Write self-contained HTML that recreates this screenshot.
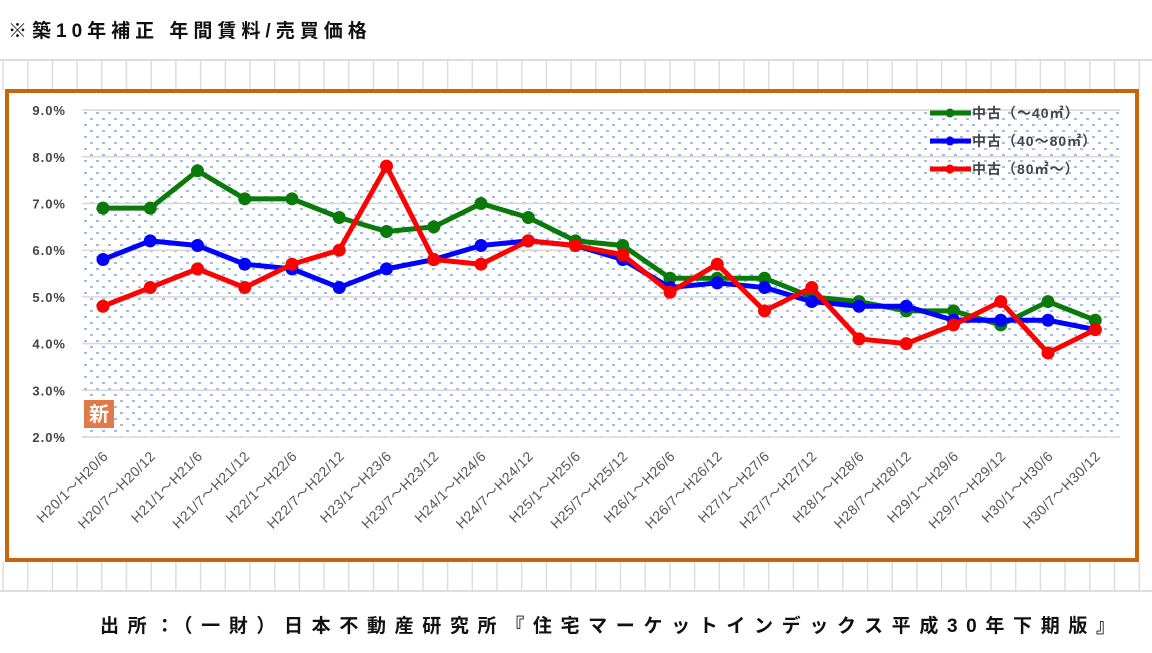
<!DOCTYPE html>
<html><head><meta charset="utf-8"><style>
body{margin:0;width:1152px;height:648px;background:#fff;overflow:hidden;font-family:"Liberation Sans","Noto Sans CJK JP",sans-serif;}
</style></head><body>
<svg width="1152" height="648" xmlns="http://www.w3.org/2000/svg">
<defs>
<pattern id="dots" x="84" y="112" width="12" height="12" patternUnits="userSpaceOnUse">
<rect x="0" y="0" width="3" height="2" fill="#9dbde3"/>
<rect x="6" y="6" width="3" height="2" fill="#9dbde3"/>
</pattern>
</defs>
<g id="sheet-grid"></g>
<text x="8" y="37" font-size="19" font-weight="bold" fill="#111" letter-spacing="5">※築10年補正 年間賃料/売買価格</text>
<rect x="7" y="91" width="1130" height="469" fill="#fff" stroke="#c8640a" stroke-width="4"/>
<rect x="82" y="110" width="1038" height="327" fill="url(#dots)"/>
<g id="grid"></g>
<g id="axes"></g>
<g id="series"></g>
<rect x="84" y="400" width="30" height="28" fill="#e07a4a"/>
<text x="99" y="421" font-size="20" font-weight="bold" fill="#fff" text-anchor="middle">新</text>
<g id="legend"></g>
<text x="100" y="632" font-size="19" font-weight="bold" fill="#111" textLength="1015" lengthAdjust="spacing">出所：（一財）日本不動産研究所『住宅マーケットインデックス平成30年下期版』</text>
</svg>
<script>
const categories=["H20/1～H20/6","H20/7～H20/12","H21/1～H21/6","H21/7～H21/12","H22/1～H22/6","H22/7～H22/12","H23/1～H23/6","H23/7～H23/12","H24/1～H24/6","H24/7～H24/12","H25/1～H25/6","H25/7～H25/12","H26/1～H26/6","H26/7～H26/12","H27/1～H27/6","H27/7～H27/12","H28/1～H28/6","H28/7～H28/12","H29/1～H29/6","H29/7～H29/12","H30/1～H30/6","H30/7～H30/12"];
const small=[6.9,6.9,7.7,7.1,7.1,6.7,6.4,6.5,7.0,6.7,6.2,6.1,5.4,5.4,5.4,5.0,4.9,4.7,4.7,4.4,4.9,4.5];
const medium=[5.8,6.2,6.1,5.7,5.6,5.2,5.6,5.8,6.1,6.2,6.1,5.8,5.2,5.3,5.2,4.9,4.8,4.8,4.5,4.5,4.5,4.3];
const large=[4.8,5.2,5.6,5.2,5.7,6.0,7.8,5.8,5.7,6.2,6.1,5.9,5.1,5.7,4.7,5.2,4.1,4.0,4.4,4.9,3.8,4.3];
const yTicks=[2,3,4,5,6,7,8,9];
const yTickLabels=["2.0%","3.0%","4.0%","5.0%","6.0%","7.0%","8.0%","9.0%"];
const seriesNames=["中古（～40㎡）","中古（40～80㎡）","中古（80㎡～）"];
const NS="http://www.w3.org/2000/svg";
function y(v){return 437-(v-2)*46.7;}
function x(i){return 103+i*47.25;}
function mk(tag,attrs,parent){const e=document.createElementNS(NS,tag);for(const k in attrs)e.setAttribute(k,attrs[k]);document.getElementById(parent).appendChild(e);return e;}
for(let gx=3;gx<1152;gx+=24.7){
 let l=mk("line",{x1:gx,y1:60,x2:gx,y2:90,stroke:"#ddd","stroke-width":1.5},"sheet-grid");
 
 
 let l2=mk("line",{x1:gx,y1:562,x2:gx,y2:590,stroke:"#ddd","stroke-width":1.5},"sheet-grid");
 
 
}
[60,591].forEach(gy=>{let l=mk("line",{x1:0,y1:gy,x2:1152,y2:gy,stroke:"#ddd","stroke-width":2},"sheet-grid");
 
 });
yTicks.forEach((t,i)=>{
 let l=mk("line",{x1:82,y1:y(t),x2:1120,y2:y(t),stroke:"#d8d8d8","stroke-width":1.5},"grid");
 
 
 let tx=mk("text",{x:66,y:y(t)+5,"font-size":13,"font-weight":"bold",fill:"#444","text-anchor":"end","letter-spacing":1},"axes");
 tx.textContent=yTickLabels[i];
 
 
});
categories.forEach((c,i)=>{
 let tx=mk("text",{x:x(i)+6,y:457,"font-size":14,fill:"#555","text-anchor":"end","letter-spacing":0.5,transform:`rotate(-45 ${x(i)+6} 457)`},"axes");
 tx.textContent=c;
 
 
});
const colors=["#0a7a0a","#0000ff","#ff0000"];
[small,medium,large].forEach((d,s)=>{
 let pl=mk("polyline",{points:d.map((v,i)=>x(i)+","+y(v)).join(" "),fill:"none",stroke:colors[s],"stroke-width":5,"stroke-linejoin":"round"},"series");
 
 
 d.forEach((v,i)=>{let c=mk("circle",{cx:x(i),cy:y(v),r:6.5,fill:colors[s]},"series");
  
  });
});
seriesNames.forEach((n,s)=>{
 const ly=113+s*28;
 let l=mk("line",{x1:930,y1:ly,x2:971,y2:ly,stroke:colors[s],"stroke-width":5},"legend");
 
 
 let c=mk("circle",{cx:950,cy:ly,r:4.5,fill:colors[s]},"legend");
 
 
 let t=mk("text",{x:972,y:ly+5,"font-size":14,"font-weight":"bold",fill:"#444","letter-spacing":1},"legend");
 t.textContent=n;
 
 
});
</script>
</body></html>
